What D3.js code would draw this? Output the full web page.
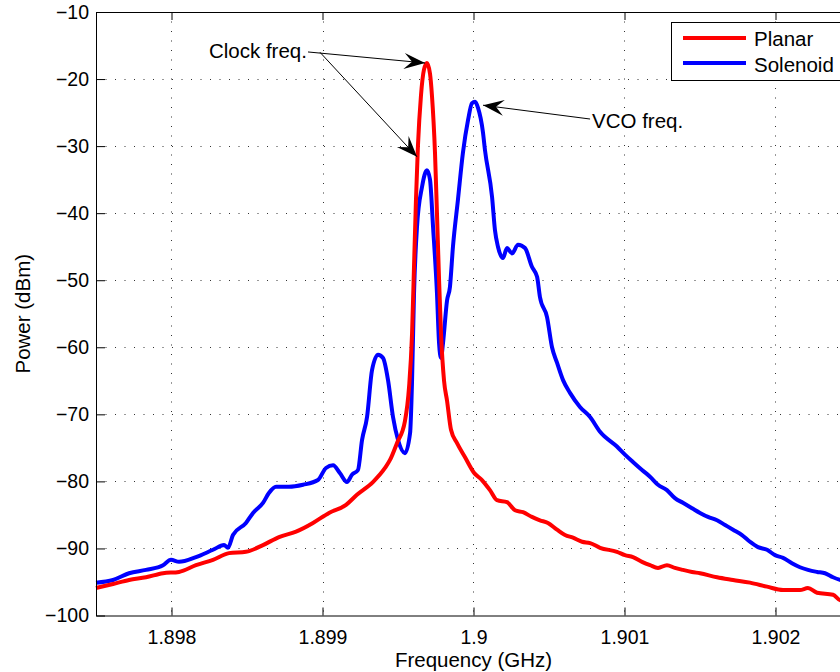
<!DOCTYPE html>
<html>
<head>
<meta charset="utf-8">
<script src="https://cdn.jsdelivr.net/npm/d3@7"></script>
<style>
  body { margin: 0; background: #fff; }
  svg { display: block; font-family: "Liberation Sans", Arial, Helvetica, sans-serif; }
</style>
</head>
<body>
<svg width="840" height="672"></svg>
<script>
// frequency in GHz, power in dBm
const planarFreq = [1.897500, 1.897613, 1.897719, 1.897831, 1.897944, 1.898050, 1.898162, 1.898275,
    1.898381, 1.898493, 1.898606, 1.898712, 1.898825, 1.898937, 1.899043, 1.899156, 1.899228, 1.899334,
    1.899414, 1.899447, 1.899493, 1.899546, 1.899573, 1.899593, 1.899606, 1.899619, 1.899632, 1.899652,
    1.899672, 1.899692, 1.899712, 1.899725, 1.899745, 1.899758, 1.899772, 1.899785, 1.899805, 1.899825,
    1.899851, 1.899891, 1.899944, 1.900003, 1.900056, 1.900109, 1.900156, 1.900222, 1.900275, 1.900328,
    1.900387, 1.900440, 1.900493, 1.900553, 1.900606, 1.900659, 1.900719, 1.900772, 1.900838, 1.900950,
    1.901003, 1.901056, 1.901116, 1.901169, 1.901222, 1.901281, 1.901334, 1.901387, 1.901447, 1.901500,
    1.901613, 1.901719, 1.901831, 1.901944, 1.902050, 1.902162, 1.902215, 1.902275, 1.902381, 1.902427,
    1.902500]
const planarPower = [-95.9, -95.3, -94.7, -94.3, -93.7, -93.5, -92.5, -91.7,
    -90.7, -90.5, -89.5, -88.3, -87.5, -86.2, -84.7, -83.5, -82.0, -80.1,
    -78.0, -76.8, -74.3, -71.0, -66.0, -58.0, -48.0, -38.0, -30.0, -22.5,
    -18.6, -17.6, -19.2, -22.5, -31.0, -40.0, -50.0, -58.0, -65.0, -68.0,
    -72.3, -74.3, -76.4, -78.7, -79.8, -81.3, -82.8, -83.1, -84.3, -84.6,
    -85.3, -85.8, -86.2, -87.2, -88.0, -88.4, -89.0, -89.2, -89.9, -90.5,
    -91.0, -91.3, -92.0, -92.5, -92.9, -92.5, -92.9, -93.2, -93.5, -93.7,
    -94.3, -94.7, -95.1, -95.7, -96.2, -96.2, -95.9, -96.6, -96.9, -97.7,
    -97.9]

const solenoidFreq = [1.897500, 1.897613, 1.897719, 1.897831, 1.897944, 1.897997, 1.898050, 1.898162,
    1.898275, 1.898348, 1.898374, 1.898407, 1.898493, 1.898540, 1.898606, 1.898646, 1.898692, 1.898778,
    1.898871, 1.898970, 1.899023, 1.899070, 1.899116, 1.899162, 1.899195, 1.899235, 1.899262, 1.899295,
    1.899328, 1.899368, 1.899401, 1.899434, 1.899467, 1.899500, 1.899546, 1.899580, 1.899593, 1.899606,
    1.899626, 1.899659, 1.899692, 1.899712, 1.899732, 1.899758, 1.899772, 1.899785, 1.899798, 1.899825,
    1.899844, 1.899864, 1.899897, 1.899930, 1.899964, 1.899990, 1.900010, 1.900030, 1.900063, 1.900076,
    1.900123, 1.900142, 1.900162, 1.900195, 1.900222, 1.900255, 1.900295, 1.900341, 1.900387, 1.900421,
    1.900440, 1.900487, 1.900520, 1.900553, 1.900593, 1.900639, 1.900705, 1.900772, 1.900838, 1.900950,
    1.901003, 1.901056, 1.901116, 1.901169, 1.901222, 1.901281, 1.901334, 1.901387, 1.901447, 1.901500,
    1.901553, 1.901613, 1.901666, 1.901719, 1.901778, 1.901831, 1.901884, 1.901944, 1.901997, 1.902050,
    1.902109, 1.902162, 1.902215, 1.902275, 1.902328, 1.902381, 1.902427, 1.902500]
const solenoidPower = [-95.1, -94.7, -93.7, -93.2, -92.5, -91.7, -92.0, -91.3,
    -90.2, -89.5, -89.9, -88.0, -86.2, -84.7, -83.2, -81.7, -80.8, -80.8,
    -80.5, -79.8, -78.0, -77.6, -78.8, -80.1, -79.0, -78.3, -73.8, -70.4,
    -63.4, -61.1, -61.6, -64.9, -70.4, -73.8, -75.8, -72.8, -65.0, -52.0,
    -42.0, -36.1, -33.6, -35.0, -42.0, -51.9, -59.4, -61.6, -59.4, -53.0,
    -51.0, -45.0, -38.0, -31.0, -26.1, -23.6, -23.4, -24.3, -28.0, -30.6,
    -37.6, -42.5, -45.0, -46.7, -45.2, -46.0, -44.7, -45.2, -48.0, -49.5,
    -52.5, -55.5, -60.0, -62.3, -64.9, -66.8, -68.9, -70.4, -72.6, -74.8,
    -76.0, -77.1, -78.3, -79.3, -80.5, -81.3, -82.5, -83.2, -84.0, -84.7,
    -85.3, -85.8, -86.5, -87.2, -88.0, -89.0, -89.8, -90.2, -91.0, -91.4,
    -92.2, -92.8, -93.2, -93.5, -93.7, -94.3, -94.7, -95.0]

const xTicks = [1.898, 1.899, 1.9, 1.901, 1.902]
const yTicks = [-100, -90, -80, -70, -60, -50, -40, -30, -20, -10]

const seriesNames = ['Planar', 'Solenoid']
const seriesColors = ['#ff0000', '#0000ff']

// annotation arrows: [fromFreq, fromPower, toFreq, toPower]
const arrows = [
    [1.898904, -15.96, 1.899679, -17.6],
    [1.898983, -16.0, 1.899626, -31.6],
    [1.900772, -25.96, 1.900063, -23.9]
]
const labels = [
    { text: 'Clock freq.', f: 1.898897, p: -16.93, anchor: 'end' },
    { text: 'VCO freq.', f: 1.900785, p: -27.3, anchor: 'start' }
]

const svg = d3.select('svg')

const x = d3.scaleLinear()
    .domain([1.8975, 1.9025])
    .range([96, 851])

const y = d3.scaleLinear()
    .domain([-100, -10])
    .range([615.5, 12])

const fmtY = d => (d < 0 ? '\u2212' + Math.abs(d) : '' + d)
const fmtX = d => (d === 1.9 ? '1.9' : d3.format('.3f')(d))

// grid
const grid = svg.append('g')
    .attr('stroke', '#333')
    .attr('stroke-width', 1)
    .attr('stroke-dasharray', '1,8.5')

grid.selectAll('.gx')
    .data(xTicks)
    .join('line')
        .attr('x1', d => Math.round(x(d)) + 0.5)
        .attr('x2', d => Math.round(x(d)) + 0.5)
        .attr('y1', y(-10))
        .attr('y2', y(-100))

grid.selectAll('.gy')
    .data(yTicks.slice(1, -1))
    .join('line')
        .attr('x1', x(1.8975))
        .attr('x2', x(1.9025))
        .attr('y1', d => Math.round(y(d)) + 0.5)
        .attr('y2', d => Math.round(y(d)) + 0.5)

// data lines
const line = d3.line()
    .x(d => x(d[0]))
    .y(d => y(d[1]))
    .curve(d3.curveMonotoneX)

const planar = d3.zip(planarFreq, planarPower)
const solenoid = d3.zip(solenoidFreq, solenoidPower)

svg.append('path')
    .datum(solenoid)
        .attr('d', line)
        .attr('fill', 'none')
        .attr('stroke', seriesColors[1])
        .attr('stroke-width', 4)
        .attr('stroke-linejoin', 'round')

svg.append('path')
    .datum(planar)
        .attr('d', line)
        .attr('fill', 'none')
        .attr('stroke', seriesColors[0])
        .attr('stroke-width', 4)
        .attr('stroke-linejoin', 'round')

// axes box with inward ticks
const bottomAxis = d3.axisBottom(x).tickValues(xTicks).tickSizeInner(-8).tickSizeOuter(0).tickPadding(14.5).tickFormat(fmtX)
const topAxis = d3.axisTop(x).tickValues(xTicks).tickSizeInner(-8).tickSizeOuter(0).tickFormat('')
const leftAxis = d3.axisLeft(y).tickValues(yTicks).tickSizeInner(-9).tickSizeOuter(0).tickPadding(7).tickFormat(fmtY)

svg.append('g')
    .attr('transform', `translate(0,${y(-100)})`)
    .call(bottomAxis)
svg.append('g')
    .attr('transform', `translate(0,${y(-10)})`)
    .call(topAxis)
svg.append('g')
    .attr('transform', `translate(${x(1.8975)},0)`)
    .call(leftAxis)

svg.selectAll('.domain, .tick line')
    .attr('stroke', '#000')
    .attr('stroke-width', 1)
svg.selectAll('.tick text')
    .attr('font-family', '"Liberation Sans", Arial, sans-serif')
    .attr('font-size', 19.5)
    .attr('fill', '#000')

// axis titles
svg.append('text')
    .attr('x', (x(1.8975) + x(1.9025)) / 2)
    .attr('y', 667)
    .attr('text-anchor', 'middle')
    .attr('font-size', 20.5)
    .text('Frequency (GHz)')

svg.append('text')
    .attr('transform', `translate(30,${(y(-10) + y(-100)) / 2}) rotate(-90)`)
    .attr('text-anchor', 'middle')
    .attr('font-size', 20.5)
    .text('Power (dBm)')

// annotations
const head = (x1, y1, x2, y2) => {
    const a = Math.atan2(y2 - y1, x2 - x1)
    const L = 21, W = 8
    const pt = (dx, dy) => [x2 + dx * Math.cos(a) - dy * Math.sin(a), y2 + dx * Math.sin(a) + dy * Math.cos(a)]
    return 'M' + [pt(0, 0), pt(-L, -W), pt(-L * 0.62, 0), pt(-L, W)].map(p => p.join(',')).join('L') + 'Z'
}

const ann = svg.append('g')
arrows.forEach(d => {
    const x1 = x(d[0]), y1 = y(d[1]), x2 = x(d[2]), y2 = y(d[3])
    ann.append('line')
        .attr('x1', x1).attr('y1', y1)
        .attr('x2', x2).attr('y2', y2)
        .attr('stroke', '#000')
        .attr('stroke-width', 1)
    ann.append('path')
        .attr('d', head(x1, y1, x2, y2))
        .attr('fill', '#000')
})

ann.selectAll('text')
    .data(labels)
    .join('text')
        .attr('x', d => x(d.f))
        .attr('y', d => y(d.p))
        .attr('text-anchor', d => d.anchor)
        .attr('font-size', 20.5)
        .text(d => d.text)

// legend
const legend = svg.append('g')
    .attr('transform', 'translate(671,22)')

legend.append('rect')
    .attr('x', 0.5)
    .attr('y', 0.5)
    .attr('width', 176)
    .attr('height', 58)
    .attr('fill', '#fff')
    .attr('stroke', '#000')
    .attr('stroke-width', 1)

seriesNames.forEach((name, i) => {
    legend.append('line')
        .attr('x1', 12).attr('x2', 75)
        .attr('y1', 16 + i * 25).attr('y2', 16 + i * 25)
        .attr('stroke', seriesColors[i])
        .attr('stroke-width', 4)
    legend.append('text')
        .attr('x', 83)
        .attr('y', 24 + i * 25.5)
        .attr('font-size', 20.5)
        .text(name)
})
</script>
</body>
</html>
